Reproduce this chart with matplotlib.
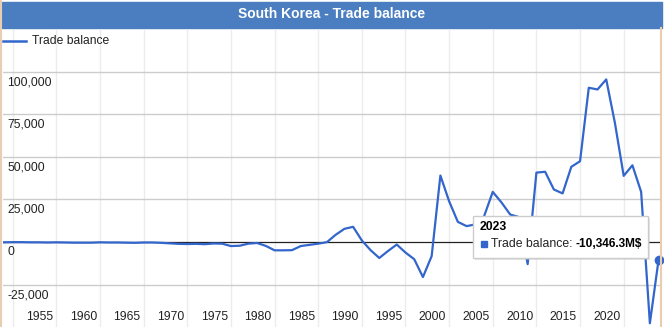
import matplotlib
matplotlib.use("Agg")
import matplotlib.pyplot as plt
from matplotlib.patches import Rectangle, FancyBboxPatch
from matplotlib.lines import Line2D

plt.rcParams['font.family'] = ['Liberation Sans', 'DejaVu Sans']

# trade balance, million US$
years = list(range(1948, 2024))
balance = [
    -200, -100, -100, -200, -200, -300, -200, -300, -400, -400,   # 1948-1957
    -400, -200, -300, -300, -400, -500, -300, -300, -500, -800,   # 1958-1967
    -1100, -1200, -1100, -1300, -900, -1000, -2400, -2200, -1000, -600,  # 1968-1977
    -2300, -4900, -4900, -4800, -2400, -1700, -1000, -100, 4200, 7700,  # 1978-1987
    8900, 900, -4800, -9400, -5300, -1500, -6200, -10100, -20600, -8300,  # 1988-1997
    39000, 23900, 11800, 9300, 10300, 15000, 29400, 23200, 16100, 14600,  # 1998-2007
    -13000, 40700, 41200, 30800, 28500, 44100, 47400, 90500, 89500, 95400,  # 2008-2017
    69700, 38800, 45000, 29400, -47700, -10346.3,                   # 2018-2023
]
y_ticks = [-25000, 0, 25000, 50000, 75000, 100000]
x_labels = [1955, 1960, 1965, 1970, 1975, 1980, 1985, 1990, 1995, 2000, 2005, 2010, 2015, 2020]
grid_years = list(range(1949, 2024, 5))

title = "South Korea - Trade balance"
series_name = "Trade balance"
tip_year = 2023
tip_value = balance[years.index(tip_year)]

W, H = 664, 327
blue = '#3366cc'

fig = plt.figure(figsize=(W / 100, H / 100), dpi=100)


def fx(px):
    return px / W


def fy(py):
    return 1 - py / H


# plot area in pixels: x 3..660, y 30..327
ax = fig.add_axes([fx(3), fy(327), fx(660) - fx(3), fy(30) - fy(327)])
ax.set_xlim(1947.89, 2023.16)
ax.set_ylim(-49900, 124400)
for s in ax.spines.values():
    s.set_visible(False)
ax.set_xticks([])
ax.set_yticks([])

for g in grid_years:
    ax.axvline(g, color='#ececec', lw=1, zorder=1)
for v in y_ticks:
    if v != 0:
        ax.axhline(v, color='#cccccc', lw=1, zorder=1)
    ax.annotate(f"{v:,}", xy=(0, v), xycoords=('axes fraction', 'data'),
                xytext=(4.5, -10.5), textcoords='offset pixels',
                ha='left', va='center', fontsize=8.7, color='#222222')
ax.axhline(0, color='#222222', lw=0.9, zorder=2)

for lab in x_labels:
    ax.annotate(str(lab), xy=(lab - 2.9, 0), xycoords=('data', 'axes fraction'),
                xytext=(0, 10), textcoords='offset pixels',
                ha='center', va='center', fontsize=8.7, color='#222222')

ax.plot(years, balance, color=blue, lw=1.6, zorder=3, solid_joinstyle='round')
ax.plot([tip_year], [tip_value], 'o', color=blue, ms=6, zorder=4, clip_on=False)

# title bar
fig.patches.append(Rectangle((fx(2), fy(28)), fx(660), fy(2) - fy(28),
                             transform=fig.transFigure, color='#4a7ec1', zorder=0))
fig.text(fx(332), fy(14), title, color='white', fontsize=10, fontweight='bold',
         ha='center', va='center')

# outer frame
fig.add_artist(Line2D([fx(1), fx(1)], [fy(0), fy(327)], color='#e8cdb0', lw=1.5))
fig.add_artist(Line2D([fx(661), fx(661)], [fy(28), fy(327)], color='#e8cdb0', lw=1.5))

# legend
fig.add_artist(Line2D([fx(3), fx(26)], [fy(41), fy(41)], color=blue, lw=1.8))
fig.text(fx(32), fy(41), series_name, fontsize=8.7, color='#222222', ha='left', va='center')

# tooltip
fig.patches.append(FancyBboxPatch((fx(475), fy(260)), fx(175), fy(218) - fy(260),
                                  boxstyle='square,pad=0', transform=fig.transFigure,
                                  facecolor='#bbbbbb', edgecolor='none', alpha=0.35, zorder=8))
fig.patches.append(FancyBboxPatch((fx(473), fy(258)), fx(175), fy(216) - fy(258),
                                  boxstyle='square,pad=0', transform=fig.transFigure,
                                  facecolor='white', edgecolor='#cccccc', lw=1, zorder=9))
fig.text(fx(480), fy(227.5), str(tip_year), fontsize=8.8, fontweight='bold',
         color='#000000', ha='left', va='center', zorder=10)
fig.patches.append(Rectangle((fx(481), fy(246.5)), fx(5.5), fy(241) - fy(246.5),
                             transform=fig.transFigure, color=blue, zorder=10))
fig.text(fx(491), fy(244), series_name + ":", fontsize=8.8, color='#222222',
         ha='left', va='center', zorder=10)
fig.text(fx(575), fy(244), f"{tip_value:,.1f}M$", fontsize=8.6, fontweight='bold',
         color='#000000', ha='left', va='center', zorder=10)

fig.savefig("out.png", dpi=100)
